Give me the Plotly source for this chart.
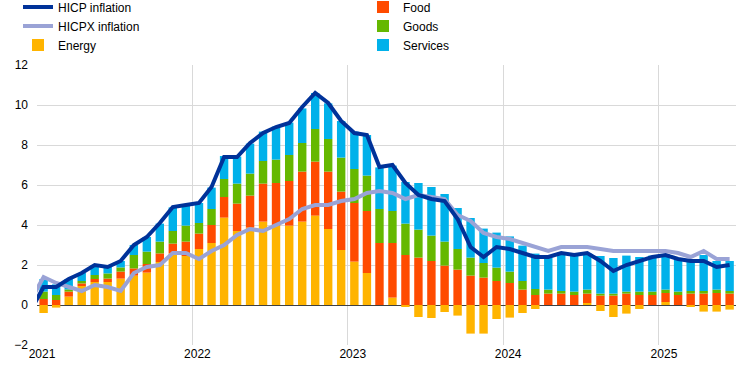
import pandas as pd
import plotly.graph_objects as go

# Monthly data, Jan 2021 - Jun 2025 (contributions, percentage points)
months = pd.date_range("2021-01-01", "2025-06-01", freq="MS")

energy = [
    -0.40, -0.13, 0.42, 0.95, 1.15, 1.15, 1.32, 1.47, 1.62, 2.15, 2.58, 2.45,
    2.80, 3.10, 4.37, 3.70, 3.87, 4.17, 3.97, 3.97, 4.17, 4.47, 3.80, 2.75,
    2.17, 1.60, 0.00, 0.37, -0.10, -0.60, -0.65, -0.35, -0.53, -1.43, -1.43, -0.70,
    -0.63, -0.40, -0.20, 0.00, 0.00, 0.00, 0.10, -0.30, -0.60, -0.43, -0.20, 0.00,
    0.15, 0.00, -0.08, -0.33, -0.33, -0.23,
]
food = [
    0.30, 0.25, 0.25, 0.13, 0.15, 0.17, 0.35, 0.36, 0.43, 0.43, 0.49, 0.72,
    0.77, 0.90, 1.03, 1.37, 1.60, 1.90, 2.13, 2.23, 2.50, 2.70, 2.87, 2.92,
    2.93, 3.10, 3.10, 2.73, 2.50, 2.37, 2.20, 1.97, 1.77, 1.47, 1.37, 1.20,
    1.10, 0.77, 0.50, 0.57, 0.57, 0.50, 0.47, 0.47, 0.47, 0.57, 0.50, 0.50,
    0.45, 0.50, 0.57, 0.57, 0.60, 0.57,
]
goods = [
    0.37, 0.25, 0.11, 0.12, 0.20, 0.26, 0.21, 0.67, 0.62, 0.59, 0.63, 0.80,
    0.53, 0.80, 0.90, 1.00, 1.10, 1.13, 1.17, 1.30, 1.43, 1.63, 1.63, 1.70,
    1.70, 1.77, 1.70, 1.60, 1.57, 1.40, 1.27, 1.20, 1.03, 0.90, 0.73, 0.67,
    0.57, 0.43, 0.30, 0.20, 0.13, 0.17, 0.20, 0.10, 0.10, 0.10, 0.17, 0.17,
    0.17, 0.17, 0.13, 0.13, 0.17, 0.13,
]
services = [
    0.63, 0.53, 0.52, 0.40, 0.50, 0.32, 0.32, 0.50, 0.73, 0.90, 1.18, 1.03,
    1.00, 1.07, 1.15, 1.35, 1.50, 1.47, 1.65, 1.62, 1.73, 1.80, 1.78, 1.83,
    1.87, 2.03, 2.08, 2.27, 2.08, 2.33, 2.43, 2.38, 2.05, 1.98, 1.72, 1.75,
    1.76, 1.77, 1.77, 1.60, 1.88, 1.86, 1.81, 1.88, 1.78, 1.80, 1.73, 1.80,
    1.76, 1.63, 1.55, 1.80, 1.43, 1.50,
]

# Headline and core inflation lines, Dec 2020 - Jun 2025 (% per annum)
line_months = pd.date_range("2020-12-01", "2025-06-01", freq="MS")
hicp = [
    -0.3,
    0.9, 0.9, 1.3, 1.6, 2.0, 1.9, 2.2, 3.0, 3.4, 4.1, 4.9, 5.0,
    5.1, 5.9, 7.4, 7.4, 8.1, 8.6, 8.9, 9.1, 9.9, 10.6, 10.1, 9.2,
    8.6, 8.5, 6.9, 7.0, 6.1, 5.5, 5.3, 5.2, 4.3, 2.9, 2.4, 2.9,
    2.8, 2.6, 2.4, 2.4, 2.6, 2.5, 2.6, 2.2, 1.7, 2.0, 2.2, 2.4,
    2.5, 2.3, 2.2, 2.2, 1.9, 2.0,
]
hicpx = [
    0.2,
    1.4, 1.1, 0.9, 0.7, 1.0, 0.9, 0.7, 1.6, 1.9, 2.0, 2.6, 2.6,
    2.3, 2.7, 3.0, 3.5, 3.8, 3.7, 4.0, 4.3, 4.8, 5.0, 5.0, 5.2,
    5.3, 5.6, 5.7, 5.6, 5.3, 5.5, 5.4, 5.3, 4.5, 4.2, 3.6, 3.4,
    3.3, 3.1, 2.9, 2.7, 2.9, 2.9, 2.9, 2.8, 2.7, 2.7, 2.7, 2.7,
    2.7, 2.6, 2.4, 2.7, 2.3, 2.3,
]

C_HICP = "#003299"
C_HICPX = "#9aa3d6"
C_ENERGY = "#ffb400"
C_FOOD = "#ff4b00"
C_GOODS = "#65b800"
C_SERV = "#00b1ea"

fig = go.Figure()

# (name, values, colour, legend, rank)
bar_specs = [
    ("Energy", energy, C_ENERGY, "legend", 3),
    ("Food", food, C_FOOD, "legend2", 1),
    ("Goods", goods, C_GOODS, "legend2", 2),
    ("Services", services, C_SERV, "legend2", 3),
]
for name, vals, col, leg, rank in bar_specs:
    fig.add_trace(go.Bar(
        x=months, y=vals, name=name, marker=dict(color=col, line=dict(width=0)),
        xperiod="M1", xperiodalignment="middle", legend=leg, legendrank=rank,
    ))

fig.add_trace(go.Scatter(
    x=line_months, y=hicpx, mode="lines", line=dict(color=C_HICPX, width=4),
    xperiod="M1", xperiodalignment="middle", name="HICPX inflation",
    legend="legend", legendrank=2,
))
fig.add_trace(go.Scatter(
    x=line_months, y=hicp, mode="lines", line=dict(color=C_HICP, width=4),
    xperiod="M1", xperiodalignment="middle", name="HICP inflation",
    legend="legend", legendrank=1,
))

leg_common = dict(
    orientation="v", xref="container", yref="paper", xanchor="left",
    y=1.259, yanchor="top", font=dict(size=12), bgcolor="rgba(0,0,0,0)",
    tracegroupgap=0, itemwidth=30,
)
fig.update_layout(
    width=744, height=372,
    margin=dict(l=37, r=8, t=65, b=27, autoexpand=False),
    plot_bgcolor="white", paper_bgcolor="white",
    barmode="relative", bargap=0.33,
    font=dict(family="Arial, 'Liberation Sans', sans-serif", size=12, color="#000000"),
    legend=dict(x=0.0242, **leg_common),
    legend2=dict(x=0.4879, **leg_common),
    showlegend=True,
)
fig.update_xaxes(
    type="date", range=["2021-01-01", "2025-07-01"],
    tick0="2021-01-01", dtick="M12", tickformat="%Y",
    showgrid=True, gridcolor="#d9d9d9", gridwidth=1,
    ticks="", showline=False, zeroline=False, ticklabelshift=5,
)
fig.update_yaxes(
    range=[-2, 12], dtick=2, tick0=0,
    showgrid=True, gridcolor="#d9d9d9", gridwidth=1,
    zeroline=True, zerolinecolor="#404040", zerolinewidth=1,
    ticks="", showline=False, ticklabelstandoff=8,
)

fig.write_html(
    "out.html",
    config={"displayModeBar": False},
    post_script="document.body.style.margin='0px';",
)
